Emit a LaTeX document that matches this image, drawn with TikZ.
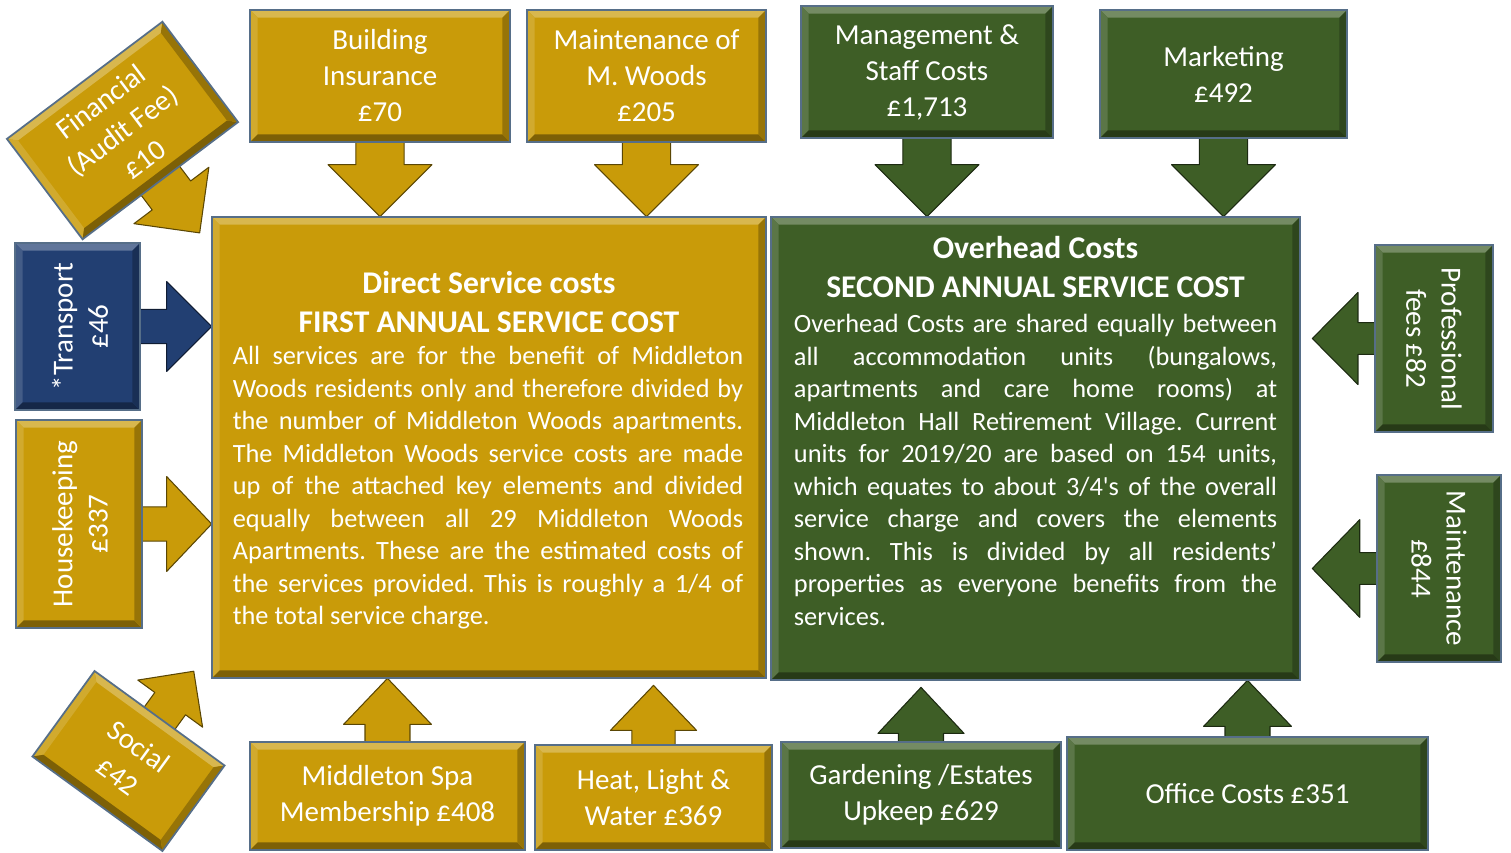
\documentclass[tikz,border=0pt]{standalone}
\usepackage{fontspec}
\setmainfont{Carlito}
\usetikzlibrary{calc,backgrounds}

\definecolor{gold}{RGB}{201,155,9}
\definecolor{moss}{RGB}{62,94,38}
\definecolor{navy}{RGB}{34,63,114}
\definecolor{rim}{RGB}{86,110,136}

\def\pxu{0.02cm}
\frenchspacing

% bevelled edge of a box node
\newcommand\bevel[2]{%
  \coordinate (iNW) at ($(#1.north west)!4.5pt!(#1.north east) + (#1.north west)!4.5pt!(#1.south west) - (#1.north west)$);
  \coordinate (iNE) at ($(#1.north east)!4.5pt!(#1.north west) + (#1.north east)!4.5pt!(#1.south east) - (#1.north east)$);
  \coordinate (iSE) at ($(#1.south east)!4.5pt!(#1.south west) + (#1.south east)!4.5pt!(#1.north east) - (#1.south east)$);
  \coordinate (iSW) at ($(#1.south west)!4.5pt!(#1.south east) + (#1.south west)!4.5pt!(#1.north west) - (#1.south west)$);
  \fill[#2!72!white] (#1.north west) -- (#1.north east) -- (iNE) -- (iNW) -- cycle;
  \fill[#2!85!white] (#1.north west) -- (iNW) -- (iSW) -- (#1.south west) -- cycle;
  \fill[#2!62!black] (#1.south west) -- (iSW) -- (iSE) -- (#1.south east) -- cycle;
  \fill[#2!75!black] (#1.north east) -- (iNE) -- (iSE) -- (#1.south east) -- cycle;
  \draw[rim, line width=1pt] (#1.north west) -- (#1.north east) -- (#1.south east) -- (#1.south west) -- cycle;
}

% block arrow: colour, from, tip, half shaft, half head, head length
\newcommand\blockarrow[6]{%
  \coordinate (hb) at ($(#3)!#6!(#2)$);
  \filldraw[fill=#1, draw=#1!45!black, line width=0.6pt, line join=round]
    ($(#2)!#4!90:(#3)$) -- ($(hb)!#4!90:(#3)$) -- ($(hb)!#5!90:(#3)$) -- (#3)
    -- ($(hb)!#5!-90:(#3)$) -- ($(hb)!#4!-90:(#3)$) -- ($(#2)!#4!-90:(#3)$) -- cycle;
}

\tikzset{
  box/.style={inner sep=0pt, text=white, align=center,
    font=\fontsize{16.5}{20.5}\selectfont},
  goldbox/.style={box, fill=gold},
  mossbox/.style={box, fill=moss},
  navybox/.style={box, fill=navy},
  sidetext/.style={inner sep=0pt, text=white, align=center,
    font=\fontsize{16.5}{20}\selectfont},
  headtext/.style={inner sep=0pt, text=white, align=center,
    font=\fontsize{18}{22.2}\selectfont\bfseries},
  bodytext/.style={inner sep=0pt, text=white, align=justify,
    font=\fontsize{15}{18.5}\selectfont,
    execute at begin node={\hyphenpenalty=10000 \exhyphenpenalty=10000 }}
}

\begin{document}
\begin{tikzpicture}[x=0.02cm, y=-0.02cm]
  \useasboundingbox (0,0) rectangle (1511,852);

  % main boxes
  \node[goldbox, minimum width={554*\pxu}, minimum height={461*\pxu}] (direct) at (489,447.5) {};
  \node[mossbox, minimum width={529*\pxu}, minimum height={463*\pxu}] (over) at (1035.5,448.5) {};

  % cost boxes
  \node[goldbox, minimum width={260*\pxu}, minimum height={132*\pxu}] (ins) at (380,76) {Building\\Insurance\\£70};
  \node[goldbox, minimum width={239*\pxu}, minimum height={132*\pxu}] (mwd) at (646.5,76) {Maintenance of\\M. Woods\\£205};
  \node[mossbox, minimum width={252*\pxu}, minimum height={132*\pxu}] (mgt) at (927,72) {Management \&\\Staff Costs\\£1,713};
  \node[mossbox, minimum width={247*\pxu}, minimum height={128*\pxu}] (mkt) at (1223.5,74) {Marketing\\£492};
  \node[goldbox, rotate=37, minimum width={194*\pxu}, minimum height={125*\pxu}] (fin) at (122.5,130.5) {Financial\\(Audit Fee)\\£10};
  \node[navybox, minimum width={125*\pxu}, minimum height={167*\pxu}] (trn) at (77.5,326.5) {};
  \node[goldbox, minimum width={126*\pxu}, minimum height={208*\pxu}] (hsk) at (79,524) {};
  \node[mossbox, minimum width={118*\pxu}, minimum height={187*\pxu}] (pro) at (1434,338.5) {};
  \node[mossbox, minimum width={124*\pxu}, minimum height={187*\pxu}] (mnt) at (1439,568.5) {};
  \node[goldbox, rotate=-36, minimum width={160*\pxu}, minimum height={105*\pxu}] (soc) at (128.5,761) {Social\\£42};
  \node[goldbox, minimum width={275*\pxu}, minimum height={108*\pxu}] (spa) at (387.5,796) {Middleton Spa\\Membership £408};
  \node[goldbox, minimum width={237*\pxu}, minimum height={105*\pxu}] (hlw) at (653.5,797.5) {Heat, Light \&\\Water £369};
  \node[mossbox, minimum width={280*\pxu}, minimum height={106*\pxu}] (gdn) at (921,795) {Gardening /Estates\\Upkeep £629};
  \node[mossbox, minimum width={361*\pxu}, minimum height={113*\pxu}] (off) at (1247.5,793.5) {Office Costs £351};

  \foreach \n/\col in {direct/gold, over/moss, ins/gold, mwd/gold, mgt/moss, mkt/moss,
      fin/gold, trn/navy, hsk/gold, pro/moss, mnt/moss, soc/gold, spa/gold, hlw/gold,
      gdn/moss, off/moss}
    \bevel{\n}{\col};

  % texts
  \node[sidetext, rotate=90] (trnlbl) at (80,326.5) {*Transport\\£46};
  \node[sidetext, rotate=90] (hsklbl) at (80,524) {Housekeeping\\£337};
  \node[sidetext, rotate=-90] (prolbl) at (1434,338.5) {Professional\\fees £82};
  \node[sidetext, rotate=-90] (mntlbl) at (1439,568.5) {Maintenance\\£844};

  \node[headtext] (dhead) at (489,302.5) {Direct Service costs\\FIRST ANNUAL SERVICE COST};
  \node[bodytext, text width=290.5pt] (dbody) at (488,488) {All services are for the benefit of Middleton\linebreak
    Woods residents only and therefore divided by\linebreak
    the number of Middleton Woods apartments.\linebreak
    The Middleton Woods service costs are made\linebreak
    up of the attached key elements and divided\linebreak
    equally between all 29 Middleton Woods\linebreak
    Apartments. These are the estimated costs of\linebreak
    the services provided. This is roughly a 1/4 of\linebreak
    the total service charge.};
  \node[headtext] (ohead) at (1035.5,267.5) {Overhead Costs\\SECOND ANNUAL SERVICE COST};
  \node[bodytext, text width=275pt] (obody) at (1035.5,470) {Overhead Costs are shared equally between\linebreak
    all accommodation units (bungalows,\linebreak
    apartments and care home rooms) at\linebreak
    Middleton Hall Retirement Village. Current\linebreak
    units for 2019/20 are based on 154 units,\linebreak
    which equates to about 3/4\textquotesingle s of the overall\linebreak
    service charge and covers the elements\linebreak
    shown. This is divided by all residents’\linebreak
    properties as everyone benefits from the\linebreak
    services.};

  % arrows
  \coordinate (tfin) at ($(fin.center)!2.04!(fin.south)$);
  \coordinate (tsoc) at ($(soc.center)!2.1!(soc.north)$);
  \begin{scope}[on background layer]
    \blockarrow{gold}{ins.center}{ins.center |- direct.north}{13.7pt}{29.6pt}{29.6pt}
    \blockarrow{gold}{mwd.center}{mwd.center |- direct.north}{13.7pt}{29.6pt}{29.6pt}
    \blockarrow{moss}{mgt.center}{mgt.center |- over.north}{13.7pt}{29.6pt}{29.6pt}
    \blockarrow{moss}{mkt.center}{mkt.center |- over.north}{13.7pt}{29.6pt}{29.6pt}
    \blockarrow{gold}{fin.center}{tfin}{13.7pt}{26.7pt}{26.7pt}
    \blockarrow{navy}{trn.center}{trn.center -| direct.west}{9.7pt}{25.6pt}{25.6pt}
    \blockarrow{gold}{hsk.center}{hsk.center -| direct.west}{9.7pt}{27pt}{25.6pt}
    \blockarrow{moss}{pro.center}{[xshift=6.8pt]pro.center -| over.east}{9pt}{26.2pt}{26pt}
    \blockarrow{moss}{mnt.center}{[xshift=6.8pt]mnt.center -| over.east}{9pt}{27.8pt}{27pt}
    \blockarrow{gold}{soc.center}{tsoc}{10.8pt}{22.8pt}{22.8pt}
    \blockarrow{gold}{spa.center}{spa.center |- direct.south}{12.8pt}{25pt}{26.2pt}
    \blockarrow{gold}{hlw.center}{[yshift=-4pt]hlw.center |- direct.south}{12.3pt}{24.5pt}{25.6pt}
    \blockarrow{moss}{gdn.center}{[yshift=-4pt]gdn.center |- over.south}{12.8pt}{24.5pt}{26.2pt}
    \blockarrow{moss}{off.center}{off.center |- over.south}{12.8pt}{25pt}{26.2pt}
  \end{scope}
\end{tikzpicture}
\end{document}
